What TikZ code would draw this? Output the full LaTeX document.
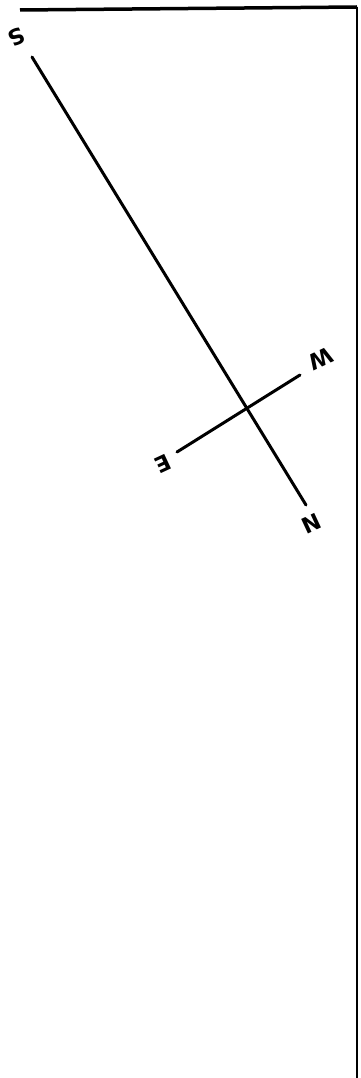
\documentclass[tikz,border=0pt]{standalone}
\usepackage{fontspec}
\setmainfont{DejaVu Sans}
\begin{document}
\begin{tikzpicture}[x=1pt,y=-1pt,
  axis/.style={line width=3pt,line cap=round},
  lbl/.style={font=\fontsize{22}{22}\selectfont\bfseries,inner sep=0pt,rotate=205}]
\useasboundingbox (0,0) rectangle (360,1078);
\fill[white] (0,0) rectangle (360,1078);
% frame
\coordinate (tl) at (20,10);
\coordinate (tr) at (357,7);
\coordinate (br) at (357,1078);
\draw[line width=3.5pt] (tl) -- (tr);
\draw[line width=2.4pt] (tr) -- (br);
% compass
\coordinate (s) at (32,57);
\coordinate (n) at (306,505);
\coordinate (e) at (177,452);
\coordinate (w) at (300,375);
\draw[axis] (s) -- (n);
\draw[axis] (e) -- (w);
\node[lbl] (S) at (17,37) {S};
\node[lbl] (N) at (312,524) {N};
\node[lbl] (E) at (163,464) {E};
\node[lbl] (W) at (321,359) {W};
\end{tikzpicture}
\end{document}
